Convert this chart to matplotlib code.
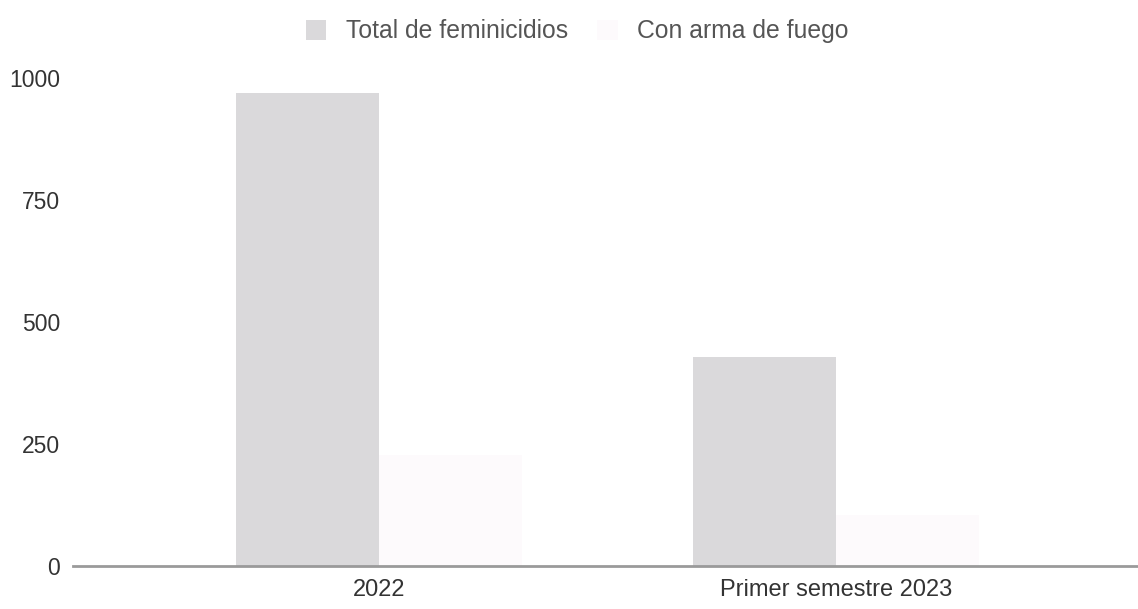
import numpy as np
import matplotlib.pyplot as plt

plt.rcParams['font.family'] = ['Liberation Sans', 'DejaVu Sans']

categories = ['2022', 'Primer semestre 2023']
total_feminicidios = [970, 428]
con_arma_de_fuego = [228, 105]

x = np.arange(len(categories))
width = 0.313

fig = plt.figure(figsize=(11.38, 6.09), dpi=100)
ax = fig.add_axes([0.064, 0.0706, 0.936, 0.8014])

ax.bar(x - width / 2, total_feminicidios, width,
       color='#dad9db', edgecolor='none', label='Total de feminicidios')
ax.bar(x + width / 2, con_arma_de_fuego, width,
       color='#fdfafc', edgecolor='none', label='Con arma de fuego')

ax.set_xlim(-0.67, 1.66)
ax.set_ylim(0, 1000)
ax.set_yticks([0, 250, 500, 750, 1000])
ax.set_xticks(x)
ax.set_xticklabels(categories)

for side in ['top', 'right', 'left']:
    ax.spines[side].set_visible(False)
ax.spines['bottom'].set_color('#9a9a9a')
ax.spines['bottom'].set_linewidth(2)

ax.tick_params(axis='y', length=0, pad=9, labelsize=16.5, labelcolor='#333333')
ax.tick_params(axis='x', length=0, pad=9, labelsize=17, labelcolor='#333333')

leg = fig.legend(loc='upper left', bbox_to_anchor=(0.269, 0.968), ncol=2,
                 frameon=False, fontsize=17.8, handlelength=0.82, handleheight=0.82,
                 columnspacing=1.2, handletextpad=0.78,
                 borderpad=0, borderaxespad=0)
for t in leg.get_texts():
    t.set_color('#555555')

fig.savefig('out.png', dpi=100)
